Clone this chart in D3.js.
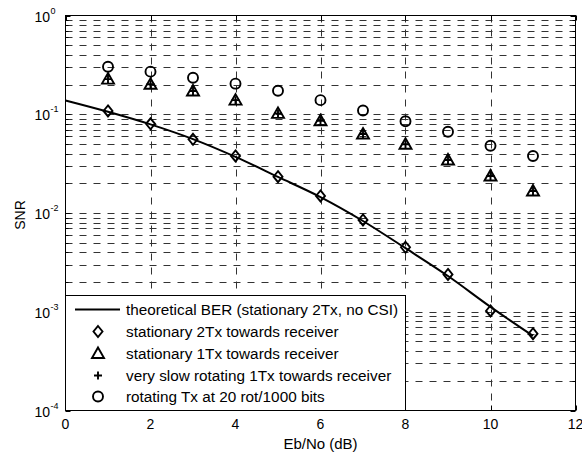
<!DOCTYPE html>
<html>
<head>
<meta charset="utf-8">
<script src="https://cdn.jsdelivr.net/npm/d3@7"></script>
<style>
  body { margin: 0; background: #fff; }
  text { font-family: "Liberation Sans", Arial, sans-serif; fill: #000; }
</style>
</head>
<body>
<svg id="chart" width="582" height="455"></svg>
<script>
// Eb/No values (dB)
var ebno = [1, 2, 3, 4, 5, 6, 7, 8, 9, 10, 11];
var theoryX = [0, 1, 2, 3, 4, 5, 6, 7, 8, 9, 10, 11];
var theoryBER = [0.138, 0.106, 0.079, 0.056, 0.037, 0.0232, 0.0145, 0.0083, 0.0044, 0.0023, 0.00112, 0.00057];
var stat2Tx = [0.108, 0.080, 0.0557, 0.0378, 0.0233, 0.0149, 0.0085, 0.0045, 0.00239, 0.00102, 0.0006];
var stat1Tx = [0.227, 0.201, 0.172, 0.139, 0.102, 0.086, 0.063, 0.0497, 0.0344, 0.0237, 0.0167];
var slowRot1Tx = [0.227, 0.201, 0.172, 0.139, 0.102, 0.086, 0.063, 0.0497, 0.0344, 0.0237, 0.0167];
var rotTx = [0.303, 0.27, 0.234, 0.204, 0.173, 0.139, 0.109, 0.085, 0.0666, 0.048, 0.0378];
var xTicks = [0, 2, 4, 6, 8, 10, 12];
var yDecades = [0, -1, -2, -3, -4];
var legendLabels = [
    "theoretical BER (stationary 2Tx, no CSI)",
    "stationary 2Tx towards receiver",
    "stationary 1Tx towards receiver",
    "very slow rotating 1Tx towards receiver",
    "rotating Tx at 20 rot/1000 bits"
];

var pL = 65.5, pR = 575.5, pT = 15.5, pB = 410.5;

var svg = d3.select("#chart");

var x = d3.scaleLinear().domain([0, 12]).range([pL, pR]);
var y = d3.scaleLog().domain([1e-4, 1]).range([pB, pT]);

// minor log values
var minorVals = [];
for (var k = -4; k < 0; k++) {
    for (var m = 2; m <= 9; m++) minorVals.push(m * Math.pow(10, k));
}
var majorVals = yDecades.map(function (e) { return Math.pow(10, e); });

var grid = svg.append("g")
    .attr("stroke", "#333")
    .attr("stroke-width", 1)
    .attr("stroke-dasharray", "7,7")
    .attr("fill", "none");

grid.selectAll(".hg")
    .data(minorVals.concat(majorVals.slice(1, 4)))
    .enter().append("line")
    .attr("x1", pL).attr("x2", pR)
    .attr("y1", function (d) { return Math.round(y(d)) + 0.5; })
    .attr("y2", function (d) { return Math.round(y(d)) + 0.5; });

grid.selectAll(".vg")
    .data(xTicks.slice(1, 6))
    .enter().append("line")
    .attr("y1", pT).attr("y2", pB)
    .attr("x1", function (d) { return Math.round(x(d)) + 0.5; })
    .attr("x2", function (d) { return Math.round(x(d)) + 0.5; });

// ticks (inward, all four sides)
var ticks = svg.append("g").attr("stroke", "#000").attr("stroke-width", 1);
xTicks.forEach(function (d) {
    var xx = Math.round(x(d)) + 0.5;
    ticks.append("line").attr("x1", xx).attr("x2", xx).attr("y1", pB).attr("y2", pB - 5);
    ticks.append("line").attr("x1", xx).attr("x2", xx).attr("y1", pT).attr("y2", pT + 5);
});
majorVals.concat(minorVals).forEach(function (d, i) {
    var yy = Math.round(y(d)) + 0.5;
    var len = i < majorVals.length ? 5 : 3;
    ticks.append("line").attr("x1", pL).attr("x2", pL + len).attr("y1", yy).attr("y2", yy);
    ticks.append("line").attr("x1", pR).attr("x2", pR - len).attr("y1", yy).attr("y2", yy);
});

// theoretical line
var line = d3.line()
    .x(function (d, i) { return x(theoryX[i]); })
    .y(function (d) { return y(d); })
    .curve(d3.curveMonotoneX);

svg.append("path")
    .datum(theoryBER)
    .attr("d", line)
    .attr("fill", "none")
    .attr("stroke", "#000")
    .attr("stroke-width", 2);

// markers
function diamond(g) {
    g.append("path").attr("d", "M0,-5.5L4.5,0L0,5.5L-4.5,0Z");
}
function triangle(g) {
    g.append("path").attr("d", "M0,-6L6,4.5L-6,4.5Z");
}
function plus(g) {
    g.append("path").attr("d", "M-4,0H4M0,-4V4");
}
function circle(g) {
    g.append("circle").attr("r", 5);
}
var series = [
    { vals: stat2Tx, shape: diamond },
    { vals: stat1Tx, shape: triangle },
    { vals: slowRot1Tx, shape: plus },
    { vals: rotTx, shape: circle }
];

series.forEach(function (s) {
    var g = svg.append("g").selectAll("g")
        .data(s.vals)
        .enter().append("g")
        .attr("transform", function (d, i) { return "translate(" + x(ebno[i]) + "," + y(d) + ")"; })
        .attr("fill", "none")
        .attr("stroke", "#000")
        .attr("stroke-width", 1.9);
    g.each(function () { s.shape(d3.select(this)); });
});

// legend
var lg = svg.append("g");
lg.append("rect")
    .attr("x", pL).attr("y", 295.5)
    .attr("width", 340).attr("height", pB - 295.5)
    .attr("fill", "#fff")
    .attr("stroke", "#000")
    .attr("stroke-width", 1);

var rowY = [309.5, 331.5, 353.5, 375.5, 396.5];
lg.append("line")
    .attr("x1", 75).attr("x2", 120)
    .attr("y1", rowY[0]).attr("y2", rowY[0])
    .attr("stroke", "#000").attr("stroke-width", 2);
series.forEach(function (s, i) {
    var g = lg.append("g")
        .attr("transform", "translate(98," + rowY[i + 1] + ")")
        .attr("fill", "none").attr("stroke", "#000").attr("stroke-width", 1.9);
    s.shape(g);
});
lg.selectAll("text")
    .data(legendLabels)
    .enter().append("text")
    .attr("x", 126)
    .attr("y", function (d, i) { return rowY[i] + 5; })
    .style("font-size", "15.3px")
    .text(function (d) { return d; });

// frame
svg.append("rect")
    .attr("x", pL).attr("y", pT)
    .attr("width", pR - pL).attr("height", pB - pT)
    .attr("fill", "none").attr("stroke", "#000").attr("stroke-width", 1);

// tick labels
svg.append("g").selectAll("text")
    .data(xTicks)
    .enter().append("text")
    .attr("x", function (d) { return x(d); })
    .attr("y", 428.5)
    .attr("text-anchor", "middle")
    .style("font-size", "14px")
    .text(function (d) { return d; });

var yl = svg.append("g");
yDecades.forEach(function (e) {
    var yy = y(Math.pow(10, e));
    yl.append("text")
        .attr("x", 50).attr("y", yy + 6)
        .attr("text-anchor", "end")
        .style("font-size", "14px")
        .text("10");
    yl.append("text")
        .attr("x", 50.5).attr("y", yy - 2)
        .style("font-size", "9px")
        .text(e);
});

// axis titles
svg.append("text")
    .attr("x", (pL + pR) / 2).attr("y", 449)
    .attr("text-anchor", "middle")
    .style("font-size", "15px")
    .text("Eb/No (dB)");
svg.append("text")
    .attr("transform", "translate(25,215) rotate(-90)")
    .attr("text-anchor", "middle")
    .style("font-size", "14px")
    .text("SNR");
</script>
</body>
</html>
